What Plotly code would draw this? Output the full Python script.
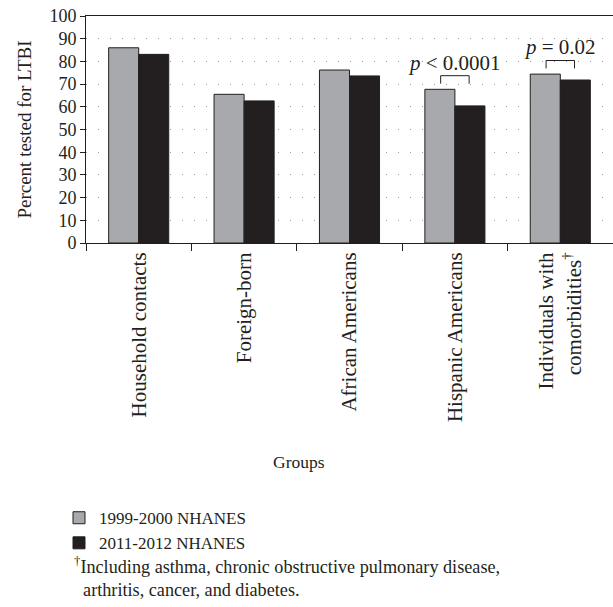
import plotly.graph_objects as go

categories = ["Household contacts", "Foreign-born", "African Americans",
              "Hispanic Americans", "Individuals with<br>comorbidities<sup>†</sup>"]
series_1999 = [86, 65.5, 76.2, 67.7, 74.4]
series_2011 = [83.1, 62.6, 73.6, 60.4, 71.8]
series_names = ["1999-2000 NHANES", "2011-2012 NHANES"]
y_ticks = [0, 10, 20, 30, 40, 50, 60, 70, 80, 90, 100]
sig_tests = [(3, "<i>p</i> < 0.0001"), (4, "<i>p</i> = 0.02")]
footnote = "<sup>†</sup>Including asthma, chronic obstructive pulmonary disease,<br>  arthritis, cancer, and diabetes."

FONT = "Liberation Serif"
INK = "#231f20"
GRAY = "#a7a9ac"

fig = go.Figure()
fig.add_trace(go.Bar(x=categories, y=series_1999, name=series_names[0],
                     marker=dict(color=GRAY, line=dict(color=INK, width=1))))
fig.add_trace(go.Bar(x=categories, y=series_2011, name=series_names[1],
                     marker=dict(color=INK, line=dict(color=INK, width=1))))

for idx, label in sig_tests:
    top = series_1999[idx] + 6
    bottom = top - 3.5
    fig.add_shape(type="path",
                  path=f"M {idx-0.135},{bottom} L {idx-0.135},{top} L {idx+0.135},{top} L {idx+0.135},{bottom}",
                  xref="x", yref="y", line=dict(color=INK, width=1))
    fig.add_annotation(x=idx, y=top, xref="x", yref="y", text=label, showarrow=False,
                       yanchor="bottom", yshift=-1, font=dict(family=FONT, size=21, color=INK))

fig.add_annotation(x=0.404, y=-1.018, xref="paper", yref="paper", text="Groups",
                   showarrow=False, font=dict(family=FONT, size=17.5, color=INK))
fig.add_annotation(x=(72 - 86) / 527, y=-1.36, xref="paper", yref="paper", text=footnote,
                   showarrow=False, xanchor="left", yanchor="top", align="left",
                   font=dict(family=FONT, size=18.2, color=INK))

fig.update_layout(
    width=613, height=607,
    margin=dict(l=86, r=0, t=16, b=364, autoexpand=False),
    paper_bgcolor="white", plot_bgcolor="white",
    barmode="group", bargap=0.43, bargroupgap=0,
    font=dict(family=FONT, size=16, color=INK),
    showlegend=True,
    legend=dict(x=(59 - 86) / 527, y=-1.133, xanchor="left", yanchor="top",
                font=dict(family=FONT, size=17, color=INK), tracegroupgap=0,
                bgcolor="rgba(0,0,0,0)"),
    xaxis=dict(type="category", tickangle=-90, range=[-0.5, len(categories) - 0.5],
               showline=True, linecolor=INK, linewidth=1, mirror=True,
               ticks="outside", tickson="boundaries", ticklen=7, tickcolor=INK,
               showgrid=False, zeroline=False, automargin=False,
               tickfont=dict(family=FONT, size=21, color=INK)),
    yaxis=dict(range=[0, 100], tickvals=y_ticks, showline=True, linecolor=INK, linewidth=1,
               ticks="outside", ticklen=5, tickcolor=INK,
               showgrid=True, gridcolor="#9a9a9a", griddash="1px,11px", gridwidth=1,
               zeroline=False, automargin=False,
               title=dict(text="Percent tested for LTBI", standoff=12,
                          font=dict(family=FONT, size=19, color=INK)),
               tickfont=dict(family=FONT, size=18, color=INK)),
)

fig.write_html("out.html", config={"displayModeBar": False},
               post_script="document.body.style.margin='0';document.body.style.overflow='hidden';")
